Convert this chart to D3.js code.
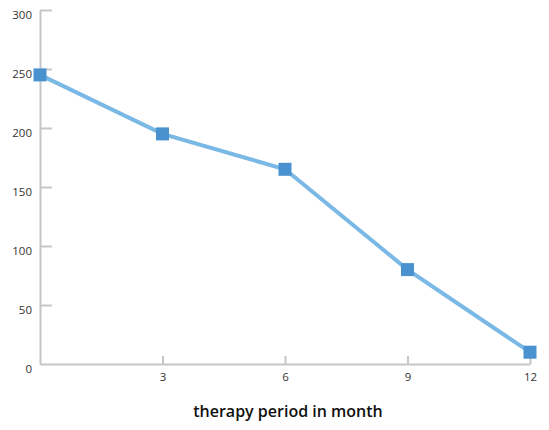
<!DOCTYPE html>
<html><head><meta charset="utf-8">
<script src="https://cdn.jsdelivr.net/npm/d3@7"></script>
<style>body{margin:0;background:#fff}svg{display:block}</style>
</head><body>
<svg id="c" width="549" height="430"></svg>
<script>
const months = [0, 3, 6, 9, 12];
const values = [245, 195, 165, 80, 10];
const xTicks = [3, 6, 9, 12];
const yTicks = [0, 50, 100, 150, 200, 250, 300];
const xTitle = "therapy period in month";

const svg = d3.select("#c");
const x = d3.scaleLinear().domain([0, 12]).range([40, 530]);
const y = d3.scaleLinear().domain([0, 300]).range([364, 10]);
const axisColor = "#c6c6c6";

const xa = svg.append("g").attr("transform", "translate(0,364)")
  .call(d3.axisBottom(x).tickValues(xTicks).tickSizeInner(-8).tickSizeOuter(0).tickPadding(9));
const ya = svg.append("g").attr("transform", "translate(40,0)")
  .call(d3.axisLeft(y).tickValues(yTicks).tickSizeInner(-12).tickSizeOuter(0).tickPadding(8));
[xa, ya].forEach(g => {
  g.select(".domain").attr("stroke", axisColor).attr("stroke-width", 2);
  g.selectAll(".tick line").attr("stroke", axisColor).attr("stroke-width", 2);
  g.selectAll(".tick text").attr("fill", "#333").attr("font-family", "Open Sans, sans-serif").attr("font-size", 11.5);
});
ya.selectAll(".tick text").attr("dy", "0.7em");
ya.selectAll(".tick").filter(d => d === 0).select("line").remove();

const data = months.map((m, i) => ({m, v: values[i]}));
svg.append("path").datum(data)
  .attr("fill", "none").attr("stroke", "#7ab8e5").attr("stroke-width", 4)
  .attr("d", d3.line().x(d => x(d.m)).y(d => y(d.v)));
const s = 13;
svg.selectAll("rect.pt").data(data).enter().append("rect").attr("class", "pt")
  .attr("x", d => x(d.m) - s/2).attr("y", d => y(d.v) - s/2)
  .attr("width", s).attr("height", s)
  .attr("fill", "#4a92cf");

svg.append("text").attr("x", 288).attr("y", 417).attr("text-anchor", "middle")
  .attr("font-family", "Open Sans, sans-serif").attr("font-weight", 600).attr("font-size", 16)
  .attr("fill", "#111").text(xTitle);
</script>
</body></html>
